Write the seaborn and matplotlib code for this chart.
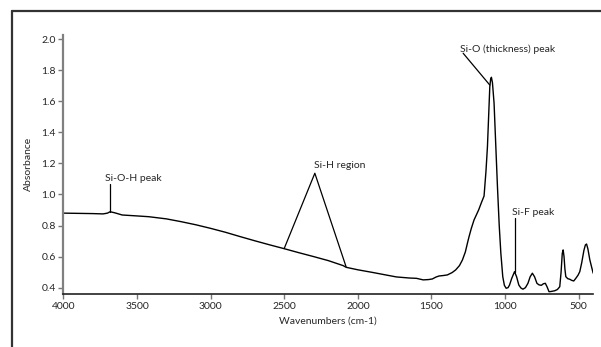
import matplotlib
matplotlib.use("Agg")
import matplotlib.pyplot as plt
from matplotlib.lines import Line2D
import pandas as pd
import seaborn as sns

# FTIR spectrum (wavenumber cm-1, absorbance)
wavenumbers = [4000, 3800, 3730, 3700, 3682, 3650, 3600, 3500, 3420, 3300,
               3200, 3100, 3000, 2900, 2800, 2700, 2600, 2500, 2400, 2300,
               2200, 2100, 2079, 2000, 1900, 1800, 1738, 1650, 1602, 1556,
               1520, 1494, 1470, 1449, 1420, 1392, 1360, 1336, 1310, 1290,
               1270, 1255, 1245, 1230, 1211, 1180, 1160, 1143, 1130, 1120,
               1110, 1104, 1098, 1093, 1086, 1075, 1064, 1052, 1040, 1029,
               1016, 1005, 993, 980, 970, 955, 936, 922, 907, 893,
               879, 862, 845, 830, 815, 800, 784, 770, 754, 740,
               727, 715, 702, 690, 663, 645, 629, 620, 612, 606,
               600, 594, 588, 575, 561, 548, 534, 520, 505, 493,
               480, 465, 455, 447, 438, 425, 412, 402]
absorbance = [0.880, 0.877, 0.875, 0.880, 0.889, 0.882, 0.868, 0.862, 0.857, 0.843,
              0.825, 0.805, 0.782, 0.757, 0.729, 0.702, 0.676, 0.651, 0.625, 0.600,
              0.574, 0.542, 0.531, 0.515, 0.498, 0.480, 0.469, 0.462, 0.460, 0.450,
              0.452, 0.456, 0.468, 0.475, 0.478, 0.482, 0.497, 0.514, 0.542, 0.578,
              0.630, 0.690, 0.728, 0.780, 0.836, 0.900, 0.950, 0.990, 1.150, 1.308,
              1.550, 1.694, 1.745, 1.755, 1.720, 1.588, 1.330, 1.050, 0.800, 0.622,
              0.471, 0.415, 0.396, 0.400, 0.417, 0.460, 0.503, 0.470, 0.417, 0.398,
              0.390, 0.400, 0.428, 0.470, 0.493, 0.470, 0.428, 0.418, 0.415, 0.425,
              0.428, 0.405, 0.374, 0.375, 0.380, 0.388, 0.406, 0.500, 0.620, 0.643,
              0.600, 0.520, 0.471, 0.458, 0.454, 0.447, 0.443, 0.460, 0.480, 0.503,
              0.560, 0.640, 0.675, 0.681, 0.650, 0.580, 0.530, 0.493]

x_ticks = [4000, 3500, 3000, 2500, 2000, 1500, 1000, 500]
y_ticks = [0.4, 0.6, 0.8, 1.0, 1.2, 1.4, 1.6, 1.8, 2.0]

df = pd.DataFrame({"wn": wavenumbers, "A": absorbance})

sns.set_style("ticks")
plt.rcParams["font.family"] = ["Lato", "DejaVu Sans"]

fig = plt.figure(figsize=(6.01, 3.47), dpi=100)
ax = fig.add_axes([0.1053, 0.1527, 0.8817, 0.7476])

sns.lineplot(data=df, x="wn", y="A", color="black", linewidth=1.0, ax=ax)

ax.set_xlim(4000, 402)
ax.set_ylim(0.359, 2.03)
ax.set_xticks(x_ticks)
ax.set_yticks(y_ticks)
ax.set_yticklabels([f"{v:.1f}" for v in y_ticks])
ax.tick_params(axis="both", labelsize=7.5, length=3.5, width=1.0, color="#777777", pad=2)
ax.set_xlabel("Wavenumbers (cm-1)", fontsize=7.5, labelpad=4)
ax.set_ylabel("Absorbance", fontsize=7.5, labelpad=6)

sns.despine(ax=ax)
ax.spines["left"].set_color("#808080")
ax.spines["left"].set_linewidth(1.6)
ax.spines["bottom"].set_color("#222222")
ax.spines["bottom"].set_linewidth(1.2)

# annotations
fs = 7.5
ax.text(3527, 1.100, "Si-O-H peak", fontsize=fs, ha="center", va="center")
ax.plot([3682, 3682], [1.068, 0.889], color="black", lw=0.9)

ax.text(2122, 1.19, "Si-H region", fontsize=fs, ha="center", va="center")
ax.plot([2500, 2292, 2080], [0.652, 1.137, 0.535], color="black", lw=0.9)

ax.text(985, 1.935, "Si-O (thickness) peak", fontsize=fs, ha="center", va="center")
ax.plot([1285, 1104], [1.91, 1.705], color="black", lw=0.9)

ax.text(810, 0.885, "Si-F peak", fontsize=fs, ha="center", va="center")
ax.plot([934, 934], [0.847, 0.503], color="black", lw=0.9)

# outer frame (top and left edges only)
fx, fy = 11.5 / 601, 1 - 11 / 347
fig.add_artist(Line2D([fx, 1], [fy, fy], transform=fig.transFigure, color="#333333", lw=1.6))
fig.add_artist(Line2D([fx, fx], [0, fy], transform=fig.transFigure, color="#333333", lw=1.6))

fig.savefig("out.png", dpi=100)
